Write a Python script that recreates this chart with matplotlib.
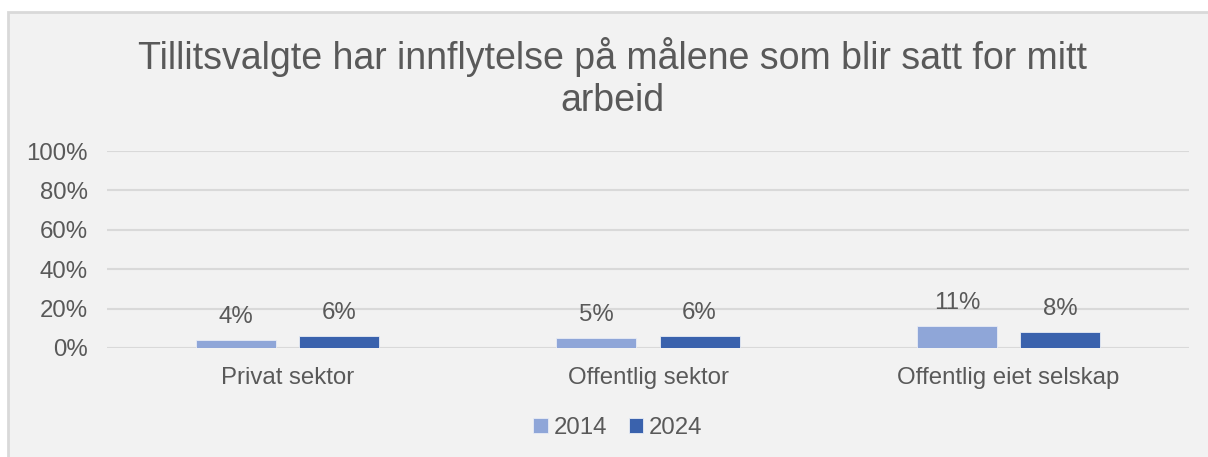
import matplotlib.pyplot as plt
from matplotlib.patches import Rectangle
import numpy as np

plt.rcParams['font.family'] = ['Liberation Sans', 'DejaVu Sans']

categories = ['Privat sektor', 'Offentlig sektor', 'Offentlig eiet selskap']
years = ['2014', '2024']
share_2014 = [4, 5, 11]
share_2024 = [6, 6, 8]
y_ticks = [0, 20, 40, 60, 80, 100]
title = 'Tillitsvalgte har innflytelse på målene som blir satt for mitt\narbeid'

text_color = '#595959'
grid_color = '#d9d9d9'
colors = ['#8fa6d8', '#3a62ad']
fs = 17.3

W, H = 1208, 457
fig = plt.figure(figsize=(W / 100, H / 100), dpi=100, facecolor='white')

# chart frame
fig.patches.append(Rectangle((8 / W, -0.01), 1.02 - 8 / W, 1 - 12 / H + 0.01,
                             transform=fig.transFigure, facecolor='#f2f2f2',
                             edgecolor=grid_color, linewidth=2, zorder=-1))

ax = fig.add_axes([107 / W, 109 / H, (1189 - 107) / W, (348 - 151) / H])
ax.set_facecolor('none')
ax.set_zorder(2)

x = np.arange(len(categories))
offset = 0.143
width = 0.222
for vals, off, col, lab in [(share_2014, -offset, colors[0], years[0]),
                            (share_2024, offset, colors[1], years[1])]:
    bars = ax.bar(x + off, vals, width, color=col, label=lab, zorder=3,
                  edgecolor='#e8ecf5', linewidth=0.6)
    for b, v in zip(bars, vals):
        ax.annotate(f'{v}%', (b.get_x() + b.get_width() / 2, v),
                    xytext=(0, 9), textcoords='offset points',
                    ha='center', va='bottom', fontsize=fs, color=text_color)

ax.set_xlim(-0.5, len(categories) - 0.5)
ax.set_ylim(0, 100)
ax.set_yticks(y_ticks)
ax.set_yticklabels([f'{t}%' for t in y_ticks])
ax.set_xticks(x)
ax.set_xticklabels(categories)
ax.tick_params(axis='both', length=0, labelsize=fs, labelcolor=text_color)
ax.tick_params(axis='y', pad=14)
ax.tick_params(axis='x', pad=14)
ax.grid(axis='y', color=grid_color, linewidth=1.5, zorder=0)
for s in ax.spines.values():
    s.set_visible(False)

fig.text(612 / W, 1 - 37 / H, title, ha='center', va='top',
         fontsize=27, color=text_color, linespacing=1.2)

leg = fig.legend(loc='center', bbox_to_anchor=(618 / W, 1 - 428 / H), ncol=2,
                 frameon=False, fontsize=fs, handlelength=0.6,
                 handleheight=0.6, handletextpad=0.25, columnspacing=0.9)
for t in leg.get_texts():
    t.set_color(text_color)

fig.savefig('out.png', dpi=100, facecolor=fig.get_facecolor())
